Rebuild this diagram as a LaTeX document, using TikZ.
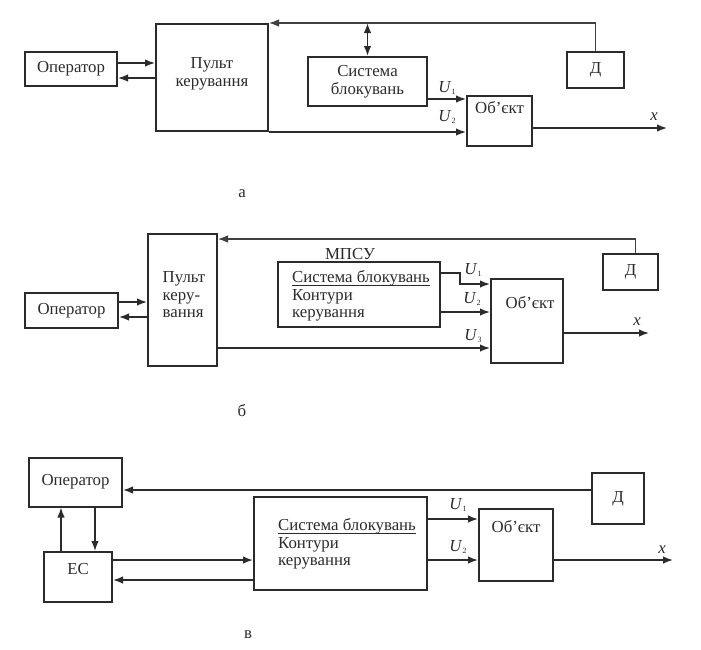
\documentclass[tikz,border=0pt]{standalone}
\usepackage{fontspec}
\setmainfont{Liberation Serif}
\usetikzlibrary{arrows.meta,calc}
\definecolor{ink}{HTML}{2B2B2B}
\newcommand{\myuline}[1]{\setbox0\hbox{#1}\rlap{\rule[-3pt]{\wd0}{1pt}}\box0}
\begin{document}
\begin{tikzpicture}[x=1pt,y=-1pt,
  blk/.style={draw=ink,line width=2pt,inner sep=0pt,minimum width=#1},
  txt/.style={font=\fontsize{16.8}{17.5}\selectfont,inner sep=0pt,text=ink},
  lbl/.style={font=\fontsize{16.8}{17}\selectfont\itshape,inner sep=0pt,text=ink},
  arr/.style={draw=ink,line width=1.5pt,-{Latex[length=10pt,width=7.5pt]}},
  darr/.style={draw=ink,line width=1.6pt,{Latex[length=10pt,width=7.5pt]}-{Latex[length=10pt,width=7.5pt]}},
  fbarr/.style={draw=ink!90,line width=1.1pt,-{Latex[length=10pt,width=7.5pt]}}]
\useasboundingbox (0,0) rectangle (701,649);
\newcommand{\Ulab}[1]{\textit{U}\raisebox{-0.35ex}{\fontsize{8}{8}\selectfont #1}}
%% ---------------- a ----------------
\node[blk=92pt,minimum height=34pt,txt] (opA) at (71,69) {Оператор};
\node[blk=112pt,minimum height=107pt] (pultA) at (212,77.5) {};
\node[txt,align=center] (pultAt) at (212,74) {Пульт\\керування};
\node[blk=119pt,minimum height=49pt,txt,align=center] (sysA) at (367.5,81.5) {Система\\блокувань};
\node[blk=57pt,minimum height=36pt,txt] (dA) at (595.5,70) {Д};
\node[blk=65pt,minimum height=50pt] (objA) at (499.5,121) {};
\node[txt] (objAt) at (499.5,108) {Об’єкт};
\coordinate (a1) at ([yshift=6pt]opA.east);
\coordinate (a2) at ([yshift=-9pt]opA.east);
\draw[arr] (a1) -- (a1 -| pultA.west);
\draw[arr] (a2 -| pultA.west) -- (a2);
\draw[fbarr] (dA.north) |- (pultA.north east);
\draw[darr] (sysA.north |- pultA.north) -- (sysA.north);
\coordinate (au1) at ([yshift=-17.5pt]sysA.east);
\draw[arr] (au1) -- (au1 -| objA.west);
\draw[arr] (pultA.south east) -- (pultA.south east -| objA.west);
\coordinate (axs) at ([yshift=-7pt]objA.east);
\coordinate (axe) at (667,128);
\draw[arr] (axs) -- (axe);
\node[txt] (aU1) at (447,88) {\Ulab{1}};
\node[txt] (aU2) at (447,117) {\Ulab{2}};
\node[lbl] (aX) at (654,117) {x};
\node[txt] (capA) at (242,194) {а};
%% ---------------- b ----------------
\node[blk=93pt,minimum height=35pt,txt] (opB) at (71.5,310.5) {Оператор};
\node[blk=69pt,minimum height=132pt] (pultB) at (182.5,300) {};
\node[txt,align=left] (pultBt) at (184,295) {Пульт\\керу-\\вання};
\node[blk=55pt,minimum height=36pt,txt] (dB) at (630.5,272) {Д};
\node[blk=162pt,minimum height=65pt] (sysB) at (359,294.5) {};
\node[txt,align=left,anchor=west] (sysBt) at (292,296) {\myuline{Система блокувань}\\Контури\\керування};
\node[txt] (mpsu) at (350,254) {МПСУ};
\node[blk=72pt,minimum height=84pt] (objB) at (527,321) {};
\node[txt] (objBt) at (530,303) {Об’єкт};
\coordinate (b1) at ([yshift=8.5pt]opB.east);
\coordinate (b2) at ([yshift=-6.5pt]opB.east);
\draw[arr] (b1) -- (b1 -| pultB.west);
\draw[arr] (b2 -| pultB.west) -- (b2);
\coordinate (bfs) at ([xshift=5pt]dB.north);
\coordinate (bfe) at ([yshift=-6pt]pultB.north east);
\draw[fbarr] (bfs) |- (bfe);
\coordinate (bu1) at ([yshift=21.5pt]sysB.east);
\coordinate (bu1m) at (460,273);
\coordinate (bu1e) at ([yshift=37pt]objB.west);
\draw[arr] (bu1) -- (bu1m) |- (bu1e);
\coordinate (bu2) at ([yshift=-17.5pt]sysB.east);
\draw[arr] (bu2) -- (bu2 -| objB.west);
\coordinate (bu3) at ([yshift=-48pt]pultB.east);
\draw[arr] (bu3) -- (bu3 -| objB.west);
\coordinate (bxs) at ([yshift=-12pt]objB.east);
\coordinate (bxe) at (649,333);
\draw[arr] (bxs) -- (bxe);
\node[txt] (bU1) at (473,270) {\Ulab{1}};
\node[txt] (bU2) at (472,299) {\Ulab{2}};
\node[txt] (bU3) at (473,336) {\Ulab{3}};
\node[lbl] (bX) at (637,322) {x};
\node[txt] (capB) at (242,411) {б};
%% ---------------- c ----------------
\node[blk=93pt,minimum height=49pt,txt] (opC) at (75.5,482) {Оператор};
\node[blk=52pt,minimum height=51pt,txt] (dC) at (618,498.5) {Д};
\node[blk=68pt,minimum height=50pt] (esC) at (78,577) {};
\node[txt] (esCt) at (78,569) {ЕС};
\node[blk=173pt,minimum height=93pt] (sysC) at (340.5,543.5) {};
\node[txt,align=left,anchor=west] (sysCt) at (278,544) {\myuline{Система блокувань}\\Контури\\керування};
\node[blk=74pt,minimum height=72pt] (objC) at (516,545) {};
\node[txt] (objCt) at (516,527) {Об’єкт};
\coordinate (cd) at ([yshift=8.5pt]dC.west);
\draw[arr] (cd) -- (cd -| opC.east);
\coordinate (cup) at ([xshift=-17pt]esC.north);
\draw[arr] (cup) -- (cup |- opC.south);
\coordinate (cdn) at ([xshift=19.5pt]opC.south);
\draw[arr] (cdn) -- (cdn |- esC.north);
\coordinate (c1) at ([yshift=17pt]esC.east);
\coordinate (c2) at ([yshift=-3pt]esC.east);
\draw[arr] (c1) -- (c1 -| sysC.west);
\draw[arr] (c2 -| sysC.west) -- (c2);
\coordinate (cu1) at ([yshift=24.5pt]sysC.east);
\draw[arr] (cu1) -- (cu1 -| objC.west);
\coordinate (cu2) at ([yshift=-16.5pt]sysC.east);
\draw[arr] (cu2) -- (cu2 -| objC.west);
\coordinate (cxs) at ([yshift=-15pt]objC.east);
\coordinate (cxe) at (673,560);
\draw[arr] (cxs) -- (cxe);
\node[txt] (cU1) at (458,505) {\Ulab{1}};
\node[txt] (cU2) at (458,547) {\Ulab{2}};
\node[lbl] (cX) at (662,550) {x};
\node[txt] (capC) at (248,635) {в};
\end{tikzpicture}
\end{document}
